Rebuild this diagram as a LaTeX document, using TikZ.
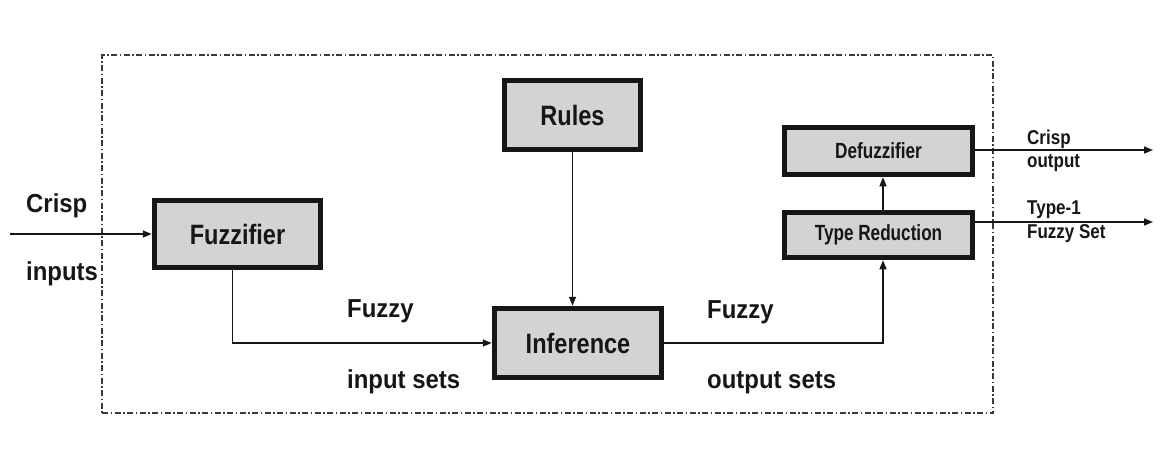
\documentclass[tikz,border=0pt]{standalone}
\usepackage{fontspec}
\setmainfont{Liberation Sans}
\newfontfamily\boxfont{Liberation Sans}[FakeStretch=0.84]
\newfontfamily\lblfont{Liberation Sans}[FakeStretch=0.92]
\newfontfamily\narrowfont{Liberation Sans}[FakeStretch=0.78]
\newfontfamily\outfont{Liberation Sans}[FakeStretch=0.85]
\usetikzlibrary{arrows.meta}
\definecolor{boxfill}{HTML}{D3D3D3}
\definecolor{ink}{HTML}{161616}
\tikzset{
  blk/.style={draw=ink, line width=5.5pt, fill=boxfill, inner sep=0pt, text=ink,
    font=\boxfont\fontsize{28}{32}\selectfont\bfseries},
  smallblk/.style={blk, font=\narrowfont\fontsize{22}{26}\selectfont\bfseries},
  conn/.style={draw=ink, line width=1.5pt, -{Triangle[length=9pt,width=7pt]}},
  lbl/.style={anchor=base west, inner sep=0pt, text=ink, font=\lblfont\fontsize{26}{30}\selectfont\bfseries},
  slbl/.style={anchor=base west, inner sep=0pt, text=ink, font=\outfont\fontsize{20}{24}\selectfont\bfseries},
  frame/.style={draw=ink!85, line width=1.3pt, dash pattern=on 6pt off 2.5pt on 1.5pt off 2.5pt}
}
\begin{document}
\begin{tikzpicture}[x=1pt,y=-1pt]
\useasboundingbox (0,0) rectangle (1167,472);
\fill[white] (0,0) rectangle (1167,472);
% dashed frame
\node[frame, minimum width=891pt, minimum height=358pt, inner sep=0pt] (frm) at (547.5,234) {};
% blocks
\node[blk, minimum width=166pt, minimum height=67pt] (fuzz) at (237.5,234) {Fuzzifier};
\node[blk, minimum width=136pt, minimum height=69pt] (rules) at (572.5,115) {Rules};
\node[blk, minimum width=167pt, minimum height=69pt] (inf) at (578,343) {Inference};
\node[smallblk, minimum width=188pt, minimum height=47pt] (defz) at (878.5,151) {Defuzzifier};
\node[smallblk, minimum width=188pt, minimum height=45pt] (tr) at (878.5,235) {Type Reduction};
% free ends
\coordinate (inp) at (10,234);
\coordinate (o1) at (1153,150);
\coordinate (o2) at (1153,222);
% connectors
\draw[conn] (inp) -- (fuzz.west);
\draw[conn] ([xshift=-5pt]fuzz.south) |- (inf.west);
\draw[conn] (rules.south) -- (rules.south |- inf.north);
\draw[conn] (inf.east) -| ([xshift=4.5pt]tr.south);
\draw[conn] ([xshift=4.5pt]tr.north) -- ([xshift=4.5pt]defz.south);
\draw[conn] (defz.east |- o1) -- (o1);
\draw[conn] (tr.east |- o2) -- (o2);
% labels
\node[lbl] (l1) at (26,212) {Crisp};
\node[lbl] (l2) at (26,280) {inputs};
\node[lbl] (l3) at (347,317) {Fuzzy};
\node[lbl] (l4) at (347,388) {input sets};
\node[lbl] (l5) at (707,318) {Fuzzy};
\node[lbl] (l6) at (707,388) {output sets};
\node[slbl] (l7) at (1027,144) {Crisp};
\node[slbl] (l8) at (1027,167) {output};
\node[slbl] (l9) at (1027,214) {Type-1};
\node[slbl] (l10) at (1027,238) {Fuzzy Set};
\end{tikzpicture}
\end{document}
